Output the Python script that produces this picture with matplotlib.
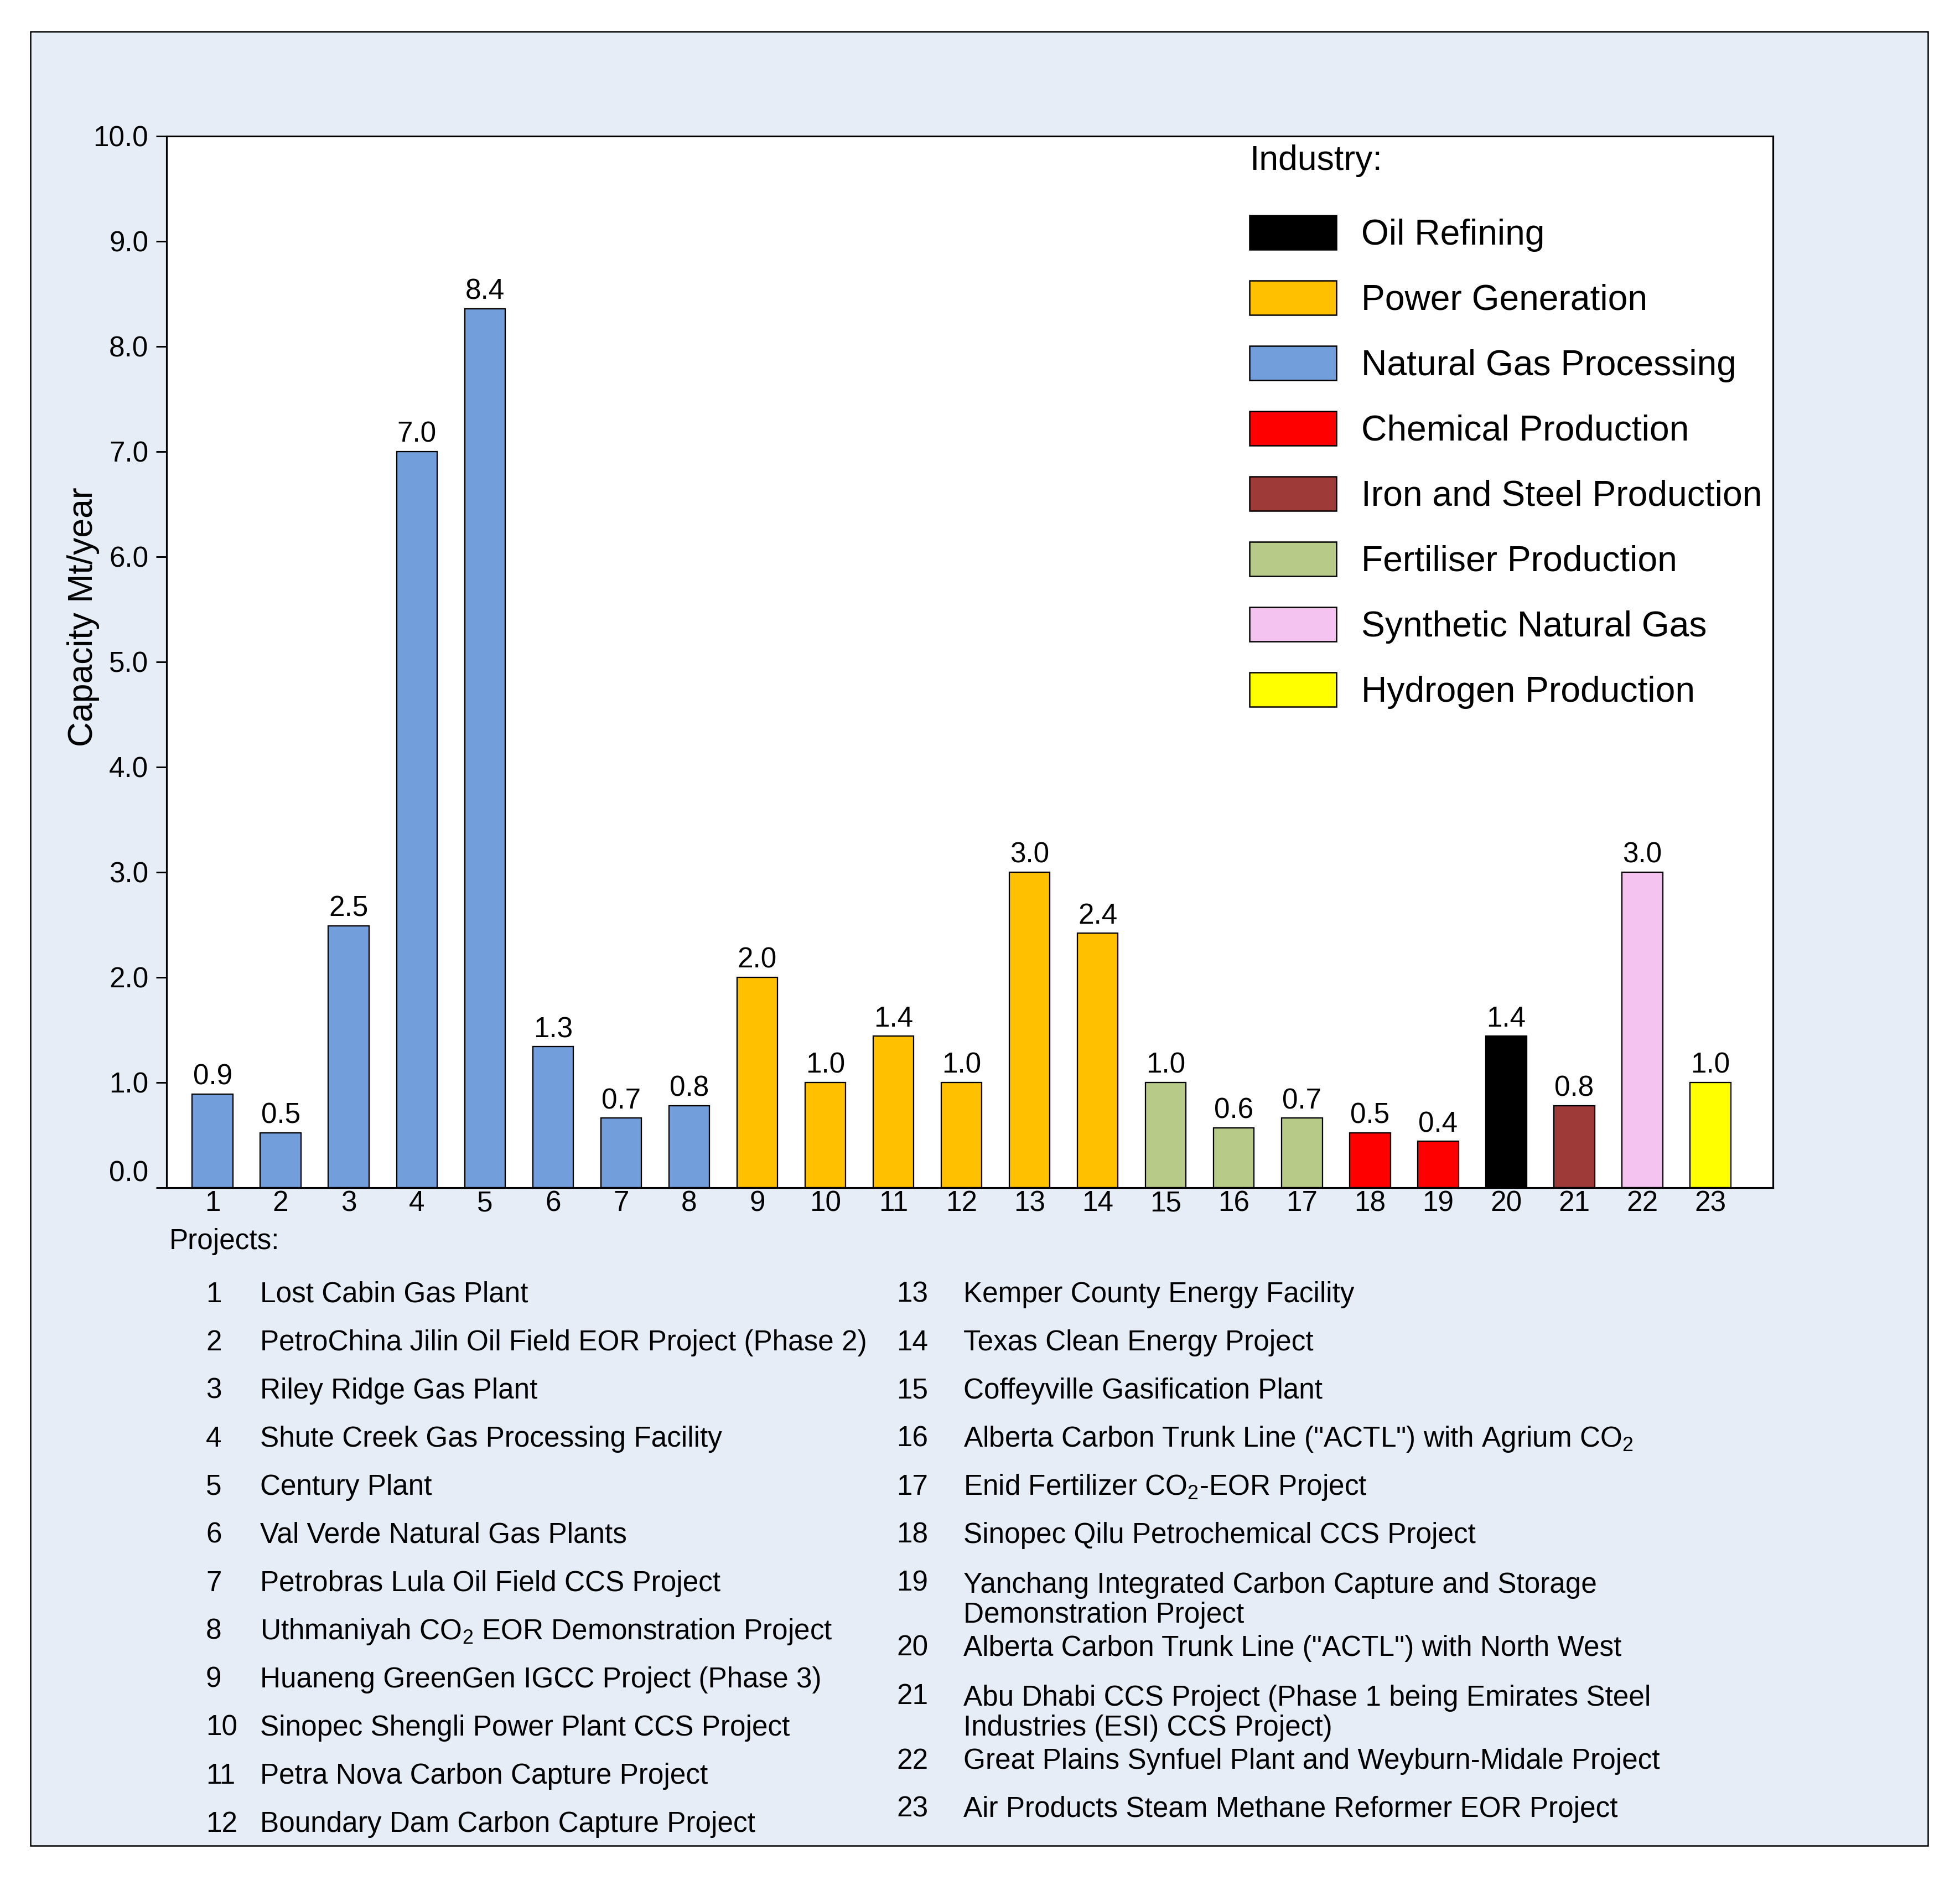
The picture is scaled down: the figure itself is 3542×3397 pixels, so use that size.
import matplotlib
matplotlib.use('Agg')
import matplotlib.pyplot as plt
from matplotlib.patches import Rectangle, Patch
import numpy as np

plt.rcParams['font.family'] = ['Liberation Sans', 'DejaVu Sans']
plt.rcParams['mathtext.fontset'] = 'custom'
plt.rcParams['mathtext.rm'] = 'Liberation Sans'
plt.rcParams['mathtext.it'] = 'Liberation Sans:italic'
plt.rcParams['mathtext.bf'] = 'Liberation Sans:bold'

# ---------------- data ----------------
project_ids = list(range(1, 24))
project_names = [
    "Lost Cabin Gas Plant",
    "PetroChina Jilin Oil Field EOR Project (Phase 2)",
    "Riley Ridge Gas Plant",
    "Shute Creek Gas Processing Facility",
    "Century Plant",
    "Val Verde Natural Gas Plants",
    "Petrobras Lula Oil Field CCS Project",
    r"Uthmaniyah CO$_\mathregular{2}$ EOR Demonstration Project",
    "Huaneng GreenGen IGCC Project (Phase 3)",
    "Sinopec Shengli Power Plant CCS Project",
    "Petra Nova Carbon Capture Project",
    "Boundary Dam Carbon Capture Project",
    "Kemper County Energy Facility",
    "Texas Clean Energy Project",
    "Coffeyville Gasification Plant",
    r'Alberta Carbon Trunk Line ("ACTL") with Agrium CO$_\mathregular{2}$',
    r"Enid Fertilizer CO$_\mathregular{2}$-EOR Project",
    "Sinopec Qilu Petrochemical CCS Project",
    "Yanchang Integrated Carbon Capture and Storage\nDemonstration Project",
    'Alberta Carbon Trunk Line ("ACTL") with North West',
    "Abu Dhabi CCS Project (Phase 1 being Emirates Steel\nIndustries (ESI) CCS Project)",
    "Great Plains Synfuel Plant and Weyburn-Midale Project",
    "Air Products Steam Methane Reformer EOR Project",
]
capacity = [0.89, 0.52, 2.49, 7.0, 8.36, 1.34, 0.66, 0.78,
            2.0, 1.0, 1.44, 1.0, 3.0, 2.42,
            1.0, 0.57, 0.66,
            0.52, 0.44,
            1.44, 0.78, 3.0, 1.0]
project_industry = (["Natural Gas Processing"] * 8 + ["Power Generation"] * 6 +
                    ["Fertiliser Production"] * 3 + ["Chemical Production"] * 2 +
                    ["Oil Refining", "Iron and Steel Production",
                     "Synthetic Natural Gas", "Hydrogen Production"])
industries = ["Oil Refining", "Power Generation", "Natural Gas Processing",
              "Chemical Production", "Iron and Steel Production",
              "Fertiliser Production", "Synthetic Natural Gas", "Hydrogen Production"]
industry_colors = ["#000000", "#FFC000", "#729FDB", "#FF0000",
                   "#9E3A38", "#B7CA88", "#F5C3F0", "#FFFF00"]
y_ticks = [0, 1, 2, 3, 4, 5, 6, 7, 8, 9, 10]

# ---------------- figure ----------------
W, H, DPI = 3542, 3397, 300
fig = plt.figure(figsize=(W / DPI, H / DPI), dpi=DPI, facecolor='white')
BG = '#E6EDF7'
frame = Rectangle((0.0155, 0.01825), 0.9836 - 0.0155, 0.9832 - 0.01825,
                  transform=fig.transFigure, facecolor=BG,
                  edgecolor='black', linewidth=0.6, zorder=-10)
fig.add_artist(frame)

ax = fig.add_axes([0.0850, 0.3683, 0.9046 - 0.0850, 0.9276 - 0.3683])
ax.set_zorder(1)
ax.set_facecolor('white')

cmap = dict(zip(industries, industry_colors))
x = np.arange(1, len(capacity) + 1)
bars = ax.bar(x, capacity, width=0.596,
              color=[cmap[i] for i in project_industry],
              edgecolor='black', linewidth=0.55, zorder=2)
ax.bar_label(bars, labels=[f"{v:.1f}" for v in capacity], padding=1.5, fontsize=12.3)

ax.set_xlim(0.3255, 23.918)
ax.set_ylim(0, 10)
ax.set_yticks(y_ticks)
ax.set_yticklabels([f"{t:.1f}" for t in y_ticks])
ax.set_xticks(x)
ax.set_xticklabels([str(i) for i in project_ids])
ax.tick_params(axis='y', direction='out', length=4.6, width=0.7, pad=3.3, labelsize=12.3)
ax.tick_params(axis='x', length=0, pad=1.0, labelsize=12.3)
ax.get_yticklabels()[0].set_verticalalignment('bottom')
for s in ax.spines.values():
    s.set_linewidth(0.75)

ax.set_ylabel("Capacity Mt/year", fontsize=15)
ax.yaxis.set_label_coords(-0.0417, 0.5426)

handles = [Patch(facecolor=c, edgecolor='black', linewidth=0.6) for c in industry_colors]
leg = ax.legend(handles, industries, title="Industry:", loc='upper left',
                bbox_to_anchor=(0.6741, 0.992), frameon=False, fontsize=15.4,
                title_fontsize=15, alignment='left', borderpad=0, borderaxespad=0,
                handlelength=2.45, handleheight=1.12, handletextpad=0.7,
                labelspacing=0.81)
# wider gap between the title and the first entry
leg._legend_box.sep = 16.5

# ---------------- project list ----------------
fig.text(0.0863, 0.3356, "Projects:", fontsize=12.3, va='baseline', ha='left')

step = 87 / H
extra = 30 / H
line_gap = 57.5 / H
columns = [(project_ids[:12], 0.1050, 0.1327), (project_ids[12:], 0.4574, 0.4915)]
for ids, xn, xt in columns:
    y = 0.30733
    for pid in ids:
        name = project_names[pid - 1]
        nextra = name.count("\n")
        fig.text(xn, y, str(pid), fontsize=12.3, va='baseline', ha='left')
        fig.text(xt, y - line_gap * nextra, name, fontsize=12.3, va='baseline',
                 ha='left', linespacing=1.15)
        y -= step + extra * nextra

fig.savefig("out.png", dpi=DPI, facecolor='white')
